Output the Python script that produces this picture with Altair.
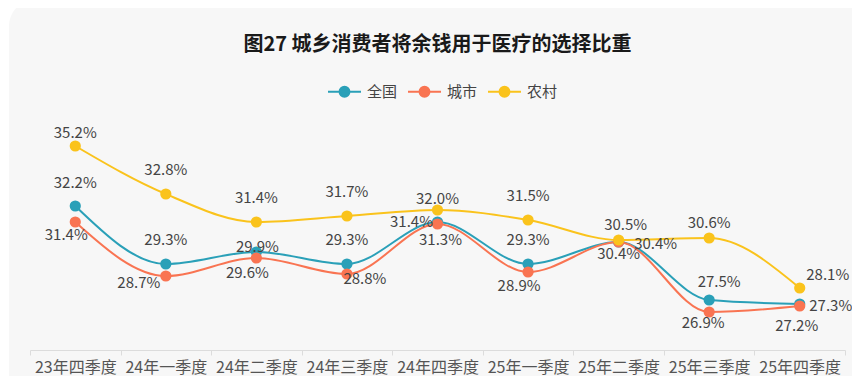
import altair as alt
import pandas as pd

quarters = ["23年四季度", "24年一季度", "24年二季度", "24年三季度", "24年四季度",
            "25年一季度", "25年二季度", "25年三季度", "25年四季度"]
series_names = ["全国", "城市", "农村"]
national = [32.2, 29.3, 29.9, 29.3, 31.4, 29.3, 30.4, 27.5, 27.3]
urban = [31.4, 28.7, 29.6, 28.8, 31.3, 28.9, 30.4, 26.9, 27.2]
rural = [35.2, 32.8, 31.4, 31.7, 32.0, 31.5, 30.5, 30.6, 28.1]
colors = ["#2aa0b8", "#f97452", "#fac31c"]

# label nudges (pixels) per point, mimicking the original's label layout
national_dx = [0, 0, 1, 0, -26, 0, 37, 10, 31]
national_dy = [-23, -24, -5, -24, 0, -24, 2, -18, 2]
urban_dx = [-9, -27, -9, 18, 3, -9, 0, -6, -3]
urban_dy = [13, 7, 15, 5, 16, 14, 12, 11, 20]
rural_dx = [0, 0, 0, 0, 0, 0, 7, 0, 28]
rural_dy = [-13, -24, -24, -24, -11, -24, -15, -15, -13]

rows = []
for name, vals, dxs, dys in [("全国", national, national_dx, national_dy),
                             ("城市", urban, urban_dx, urban_dy),
                             ("农村", rural, rural_dx, rural_dy)]:
    for q, v, dx, dy in zip(quarters, vals, dxs, dys):
        rows.append({"quarter": q, "series": name, "value": v,
                     "label": f"{v:.1f}%", "dx": dx, "dy": dy})
df = pd.DataFrame(rows)

FONT = "Noto Sans CJK SC"
W, H = 815, 220

x_enc = alt.X("quarter:N", sort=quarters, title=None,
              scale=alt.Scale(type="band", paddingInner=0, paddingOuter=0),
              axis=alt.Axis(labelAngle=0, tickBand="extent", domainColor="#dcdcdc",
                            tickColor="#dcdcdc", tickSize=5, labelFontSize=16,
                            labelColor="#555555", labelFont=FONT, labelPadding=4,
                            grid=False, zindex=1))
y_enc = alt.Y("value:Q", axis=None,
              scale=alt.Scale(domain=[25, 36], zero=False, nice=False))

color_scale = alt.Scale(domain=series_names, range=colors)
legend = alt.Legend(title=None, orient="none", direction="horizontal",
                    legendX=297, legendY=-56, padding=0,
                    symbolType="M-1,0H1M0.3,0A0.3,0.3,0,1,1,-0.3,0A0.3,0.3,0,1,1,0.3,0Z",
                    symbolSize=1089, symbolStrokeWidth=2, labelFontSize=15,
                    labelFont=FONT, labelColor="#444444", labelOffset=5,
                    columnPadding=6, symbolOpacity=1)

card = alt.Chart(pd.DataFrame({"a": [0]})).mark_rect(
    color="#f7f7f7", cornerRadius=26
).encode(x=alt.value(-21), x2=alt.value(850),
         y=alt.value(-130), y2=alt.value(270))

base = alt.Chart(df)
lines = base.mark_line(interpolate="monotone", strokeWidth=2).encode(
    x=x_enc, y=y_enc,
    stroke=alt.Stroke("series:N", scale=color_scale, legend=legend),
    detail="series:N",
)
points = base.mark_point(filled=True, size=85, opacity=1).encode(
    x=x_enc, y=y_enc,
    fill=alt.Fill("series:N", scale=color_scale, legend=legend),
    stroke=alt.Stroke("series:N", scale=color_scale, legend=legend),
)

label_layers = []
offsets = sorted(set(zip(df["dx"], df["dy"])))
for dx, dy in offsets:
    label_layers.append(
        base.transform_filter(
            (alt.datum.dx == int(dx)) & (alt.datum.dy == int(dy))
        ).mark_text(dx=int(dx), dy=int(dy), fontSize=15, font=FONT,
                    color="#444444", align="center", baseline="middle").encode(
            x=x_enc, y=y_enc, text="label:N")
    )

chart = alt.layer(card, lines, points, *label_layers).properties(
    width=W, height=H,
    title=alt.TitleParams("图27 城乡消费者将余钱用于医疗的选择比重", fontSize=20,
                          fontWeight="bold", font=FONT, color="#1a1a1a",
                          anchor="middle", frame="group", offset=-55),
    autosize=alt.AutoSizeParams(type="none"),
    padding={"left": 22, "top": 122, "right": 7, "bottom": 26},
).configure(background="#ffffff").configure_view(stroke=None)

chart.save("out.html", embed_options={"renderer": "svg", "actions": False})
